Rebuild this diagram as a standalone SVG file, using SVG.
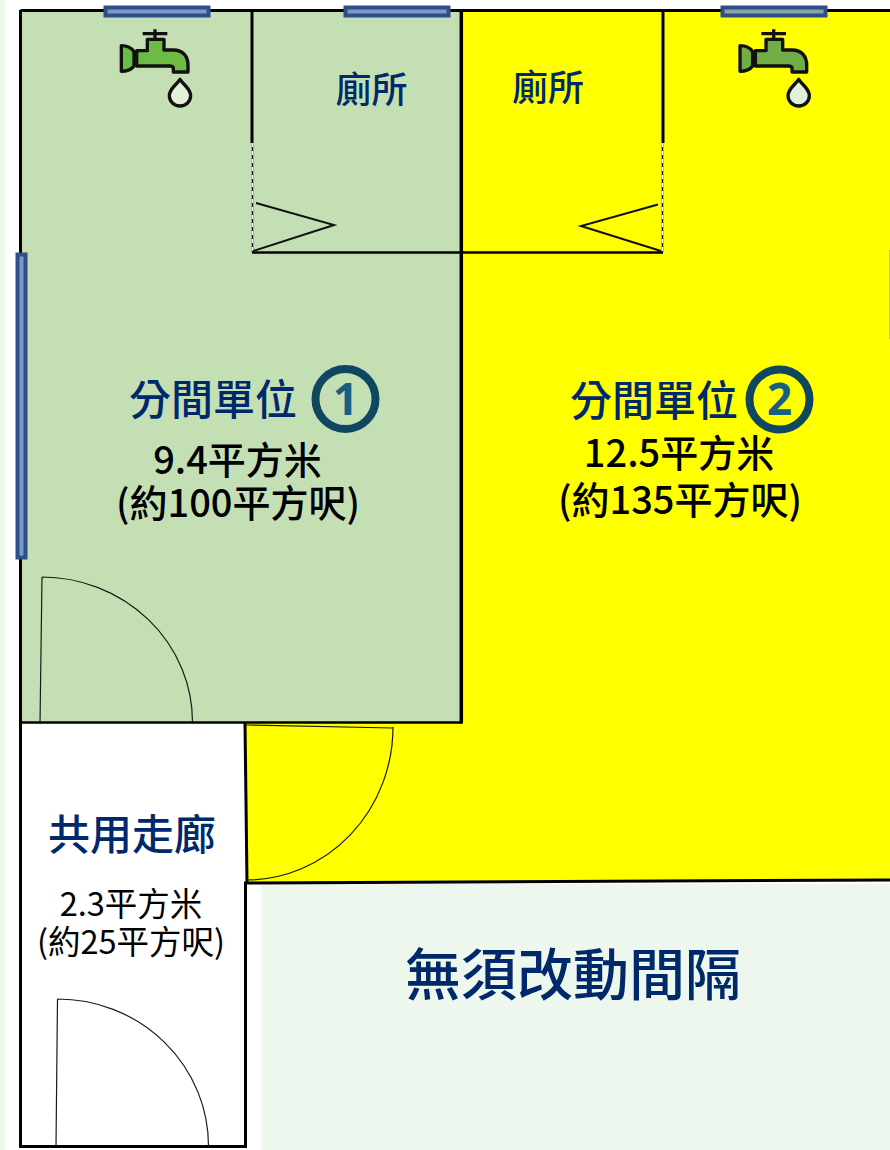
<svg xmlns="http://www.w3.org/2000/svg" width="890" height="1150" viewBox="0 0 890 1150">
<style>
text{font-family:"Noto Sans CJK TC","Noto Sans",sans-serif;text-anchor:middle}
.navy{fill:#00296B;font-weight:500}
.blk{fill:#000;font-weight:500}
.wall{fill:none;stroke:#000;stroke-width:3}
.thin{fill:none;stroke:#1a1a1a;stroke-width:1.2}
.zig{fill:none;stroke:#111;stroke-width:2}
.dash{fill:none;stroke:#fff;stroke-width:1.2;stroke-dasharray:4 4}
.win{stroke:#2F4F8A;stroke-width:4}
.fo{stroke:#111;stroke-width:10;stroke-linejoin:round}
.digit{font-family:"Open Sans","Noto Sans",sans-serif;font-size:44px;font-weight:700;fill:#156082}
</style>
<defs>
<g id="faucet">
<path class="fo" d="M158 101H232M195 88V118" fill="none"/>
<path class="fo" d="M172 152V118H222V150H250C280 150 294 170 294 195V216H250V205Q250 198 238 198H140V152Z"/>
<path class="fo" d="M94 137Q120 137 132 155V198Q120 214 94 214Z"/>
<path class="fo" fill="#E2EFD9" d="M270 238C280 254 302 266 302 287A32 31 0 0 1 238 287C238 266 260 254 270 238Z"/>
</g>
</defs>
<rect id="page" width="890" height="1150" fill="#fff"/>
<rect width="5" height="1150" fill="#EEF7ED"/>
<g id="room-1"><rect x="21" y="11" width="441" height="711" fill="#C5DFB4"/></g>
<g id="room-2"><path d="M462 11H890V881L246 883L245 722H462Z" fill="#FFFF00"/><path d="M889.500 250V339" stroke="#B8C86A" stroke-width="1"/></g>
<g id="no-change"><rect x="261" y="884" width="629" height="266" fill="#EEF7ED"/></g>
<g id="walls">
<path class="wall" d="M20.500 10.500H890"/>
<path class="wall" d="M20.500 10V1147"/>
<path class="wall" d="M19 1146.500H247"/>
<path class="wall" d="M245.500 882V1147"/>
<path class="wall" d="M245 723L247 882"/>
<path class="wall" d="M244 883L890 880"/>
<path class="wall" style="stroke-width:2.500" d="M20 722.500H462"/>
<path class="wall" style="stroke-width:3.500" d="M461.300 10V723.500"/>
<path class="wall" d="M252 10V143M663 10V143"/>
<path class="wall" style="stroke-width:2.500" d="M252 252.500H663"/>
<path class="zig" style="stroke-width:1.500" d="M252.500 143V252M662.500 143V252"/>
<path class="dash" d="M252.500 143V252M662.500 143V252"/>
<path class="zig" d="M256 203L334 225L253 251M658 204.500L581 226L661 251"/>
</g>
<g id="doors">
<path class="thin" d="M42 577L40 724M42 577A151 145 0 0 1 192.500 722"/>
<path class="thin" d="M246 725L393 728M393 727A147 153 0 0 1 247 880"/>
<path class="thin" d="M57.500 999L56 1146M57.500 999A151 147 0 0 1 208.500 1146"/>
</g>
<g id="windows">
<rect class="win" x="105.500" y="7.500" width="103" height="8" fill="#7B9CCB"/>
<rect class="win" x="345.500" y="7.500" width="103" height="8" fill="#7B9CCB"/>
<rect class="win" x="722.500" y="7.500" width="103" height="8" fill="#8AA2A8"/>
<rect class="win" x="17.500" y="254.500" width="8" height="303" fill="#7B9CCB"/>
</g>
<g id="faucet-1" fill="#6CBB45"><use href="#faucet" transform="translate(90 0) scale(.3333)"/></g>
<g id="faucet-2" fill="#70AD47"><use href="#faucet" transform="translate(708.700 0) scale(.3333)"/></g>
<g id="toilet-1"><text class="navy" x="371.500" y="103" font-size="36">廁所</text></g>
<g id="toilet-2"><text class="navy" x="548" y="101" font-size="36">廁所</text></g>
<g id="unit-1">
<text class="navy" x="213" y="415" font-size="42">分間單位</text>
<circle cx="345.500" cy="399" r="30" fill="none" stroke="#0F4761" stroke-width="8"/>
<text class="digit" x="345.500" y="415">1</text>
<text class="blk" font-size="38"><tspan x="237.500" y="474">9.4平方米</tspan><tspan x="238" y="517">(約100平方呎)</tspan></text>
</g>
<g id="unit-2">
<text class="navy" x="654" y="416" font-size="42">分間單位</text>
<circle cx="779.500" cy="399.500" r="30" fill="none" stroke="#0F4761" stroke-width="8"/>
<text class="digit" x="779.500" y="415">2</text>
<text class="blk" font-size="38"><tspan x="679" y="467">12.5平方米</tspan><tspan x="680" y="514">(約135平方呎)</tspan></text>
</g>
<g id="corridor">
<text class="navy" x="132" y="850" font-size="42">共用走廊</text>
<text font-size="32.500" fill="#000"><tspan x="131" y="916">2.3平方米</tspan><tspan x="131" y="954">(約25平方呎)</tspan></text>
</g>
<g id="no-change-label"><text class="navy" x="573" y="995" font-size="56">無須改動間隔</text></g>
</svg>
